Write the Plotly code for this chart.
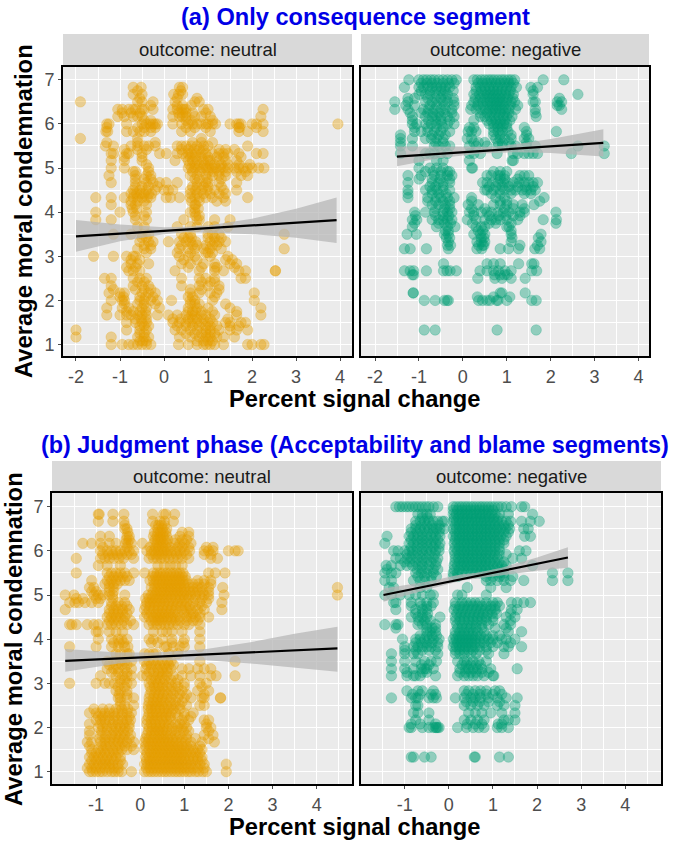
import plotly.graph_objects as go

a_neutral = [
 (6.83,[-.7,-.52,.35,.42]),
 (6.67,[-.7,-.5,.33,.42,.22]),
 (6.5,[-1.9,-.6,-.5,-.25,.25,.7,.8]),
 (6.33,[-1.05,-.95,-.8,-.7,-.65,-.5,-.45,-.25,.2,.3,.4,.45,.5,.9,1.0,2.25]),
 (6.17,[-1.05,-.9,-.7,-.6,-.5,.2,.35,.42,.5,.7,.85,1.05,2.2]),
 (6,[-1.3,-1.25,-.85,-.5,-.4,-.32,-.25,-.2,-.15,.2,.4,.55,.65,.75,.85,.95,1.0,1.1,1.17,1.5,1.65,1.7,1.75,2.0,2.1,2.25,3.95]),
 (5.83,[-1.32,-1.28,-.85,-.7,-.55,-.45,-.3,.4,.6,1.05,1.7,1.9,2.25]),
 (5.67,[-1.9,-.6,.85]),
 (5.5,[-1.33,-1.15,-.75,-.6,-.45,-.35,-.2,.3,.4,.5,.62,.75,.9,1.0,1.9]),
 (5.33,[-1.2,-1.15,-.85,-.8,-.5,-.1,.05,.3,.42,.55,.62,.72,.85,.95,1.1,1.25,1.35,1.45,1.7,2.1,2.25]),
 (5.17,[-1.2,-.9,-.5,.25,.55,.65,.75,.9,1.0,1.05,1.25,1.4,1.65]),
 (5,[-1.2,-.9,-.35,.55,.62,.7,.78,.88,.95,1.02,1.1,1.18,1.28,1.35,1.45,1.6,1.7,1.8,1.9,2.0,2.15,2.27]),
 (4.83,[-1.25,-.65,-.4,-.3,.6,.75,.95,1.1,1.25,1.4,1.75,1.9]),
 (4.67,[-1.2,-.65,-.4,-.25,-.1,.05,.3,.75,.95,1.0,1.25,1.65]),
 (4.5,[-.7,-.55,-.4,-.2,0,.1,.2,.6,.72,.85,.98,1.15,1.35,1.65]),
 (4.33,[-1.55,-1.2,-.9,-.7,-.6,-.5,-.38,-.3,.05,.15,.35,.6,.7,.8,.95,1.1,1.35,1.9]),
 (4.17,[-1.2,-.75,-.65,-.4,.7,.72]),
 (4,[-1.55,-1,-.7,-.4,.6,.7]),
 (3.83,[-1.55,-1.2,-.65,-.4,.45,.75,.8,1.15,1.5]),
 (3.67,[-.6,-.45,.3,.6,.75,1.0,1.15,1.45]),
 (3.5,[-1.15,-.75,-.5,-.35,.4,.6,1.0,1.1,1.25,2.73]),
 (3.33,[-.55,-.35,-.25,.1,.35,.5,.6,.72,1.05,1.15,1.25,1.4]),
 (3.17,[-.6,-.45,-.3,.35,.55,.7,.9,1.05,1.3,2.73]),
 (3,[-1.6,-1.15,-.85,-.7,-.65,.35,.55,.7,1.05,1.45]),
 (2.83,[-.75,-.6,-.35,.4,.6,.9,1.15,1.5,1.65]),
 (2.67,[-.8,-.7,-.55,.25,.8,1.15,1.35,1.7,1.85,2.53,2.53]),
 (2.5,[-1.35,-1.2,-.7,-.55,-.4,.4,.8,.95,1.15,1.75,1.85]),
 (2.33,[-1.2,-.7,-.5,-.35,.4,.8,1.0,1.25]),
 (2.17,[-1.25,-1.0,-.9,-.5,-.35,-.2,.6,.8,1.05,1.2,2.05]),
 (2,[-1.2,-.95,-.9,-.55,-.45,-.3,-.15,.17,.6,.7,1.1,2.05]),
 (1.83,[-1.3,-.95,-.8,-.5,-.4,-.1,.55,.75,1.0,1.5,2.2]),
 (1.67,[-1.3,-1,-.85,-.75,-.6,-.5,-.4,-.15,.1,.3,.5,.62,.7,.85,.95,1.15,1.65,2.2]),
 (1.5,[-.85,-.65,-.5,-.4,.2,.35,.5,.6,.75,.85,1.0,1.1,1.4,1.5,1.75,1.85]),
 (1.33,[-2,-.85,-.55,-.4,.25,.4,.6,.75,.95,1.05,1.25,1.5,1.65,1.9]),
 (1.17,[-2,-1.2,-.6,-.45,-.35,.35,.6,.8,.95,1.05,1.2,1.35,1.6]),
 (1,[-1.2,-.95,-.8,-.7,-.6,-.5,-.4,-.3,.33,.55,.75,.9,.97,1.05,1.15,1.35,1.9,2.0,2.2,2.27]),
 (6.75,[-.6,.38]),
 (6.58,[-.55,.3,.75]),
 (6.42,[-.3,.3,.42,.62]),
 (6.25,[-.95,-.75,-.55,.33,.42,.5,.65,.95]),
 (6.08,[-.45,-.3,.5,.62,1.1]),
 (5.92,[-1.3,-.6,-.45,-.3,-.2,.5,.7,.95,1.7,1.72,2.1]),
 (5.58,[-1.3,-.6,-.2,.65,.85,1.1]),
 (5.42,[-.9,-.6,-.4,.4,.55,.68,.8,.9,1.25,1.4,1.6]),
 (5.25,[-.9,-.5,.5,.6,.72,.85,1.0,1.2,1.35,1.75]),
 (5.08,[-.4,.58,.7,.8,.92,1.05,1.15,1.3,1.45,1.7,1.95]),
 (4.92,[-.7,-.65,-.35,.65,.82,1.0,1.12,1.25,1.4,1.65,1.85]),
 (4.75,[-.65,-.45,-.3,.7,.8,.98,1.3]),
 (4.58,[-.65,-.5,-.35,-.15,.65,.75,.9,1.0,1.3]),
 (4.42,[-.75,-.68,-.62,-.52,-.45,-.35,-.28,.6,.75,.9,1.05,1.25,1.4]),
 (4.25,[-.75,-.6,-.45,.62,.8,1.2,1.4]),
 (4.08,[-.72,-.62,.7,.78]),
 (3.92,[-.65,-.45,.72,.8]),
 (3.42,[-.5,-.4,.45,.55,.62,1.0,1.15,1.3]),
 (3.25,[-.45,-.3,.4,.65,.75,.95,1.1,1.2]),
 (3.08,[-.4,.3,.6,.95,1.0,1.1]),
 (2.92,[-.75,-.55,.45,.75,1.4,1.55]),
 (2.75,[-.85,-.65,.55,.85,1.15,1.2,1.6]),
 (2.42,[-.6,-.45,.85,1.05,1.15]),
 (2.25,[-1.15,-.65,-.45,-.3,.6,.85,1.25]),
 (2.08,[-1.0,-.92,-.55,-.42,-.25,.55,.65,1.15]),
 (1.92,[-.9,-.6,-.45,-.2,.6,.7,.8,1.4]),
 (1.75,[-.85,-.7,-.55,-.42,.55,.65,.72,.85,1.1,1.65]),
 (1.58,[-.65,-.52,-.4,.2,.38,.55,.65,.75,.9,1.05,1.45]),
 (1.42,[-.55,-.45,-.35,.3,.5,.65,.8,.95,1.05,1.2,1.5,1.7]),
 (1.25,[-.55,-.45,.5,.7,.85,.95,1.05,1.15]),
 (1.08,[-.55,-.48,-.4,.75,.9,1.0,1.1]),
]

a_negative = [
 (7,[-1.23,-1.0,-.9,-.82,-.73,-.65,-.55,-.45,-.35,-.25,-.15,.25,.33,.42,.5,.58,.65,.72,.8,.88,.95,1.03,1.1,1.18,1.83,2.3]),
 (6.83,[-1.33,-1.0,-.9,-.8,-.7,-.6,-.5,-.4,-.3,.3,.4,.5,.6,.7,.8,.9,1.0,1.1,1.22,1.55,1.7]),
 (6.67,[-1.0,-.85,-.75,-.6,-.45,-.35,.25,.38,.48,.55,.63,.72,.8,.88,.97,1.05,1.15,1.6,2.62]),
 (6.5,[-1.55,-1.25,-.85,-.7,-.6,-.45,-.35,-.2,.25,.35,.45,.55,.62,.7,.78,.85,.92,1.0,1.1,1.18,1.6,1.65,2.15,2.25]),
 (6.33,[-1.55,-1.25,-.9,-.78,-.65,-.5,-.4,-.25,.18,.3,.42,.52,.6,.68,.75,.83,.9,.98,1.05,1.2,1.65,2.25]),
 (6.17,[-1.15,-.85,-.7,-.6,-.5,-.35,-.2,.4,.5,.62,.72,.82,.92,1.0,1.12,1.67]),
 (6,[-1.15,-1.05,-.85,-.72,-.6,-.48,-.35,-.2,.6,.7,.78,.85,.93,1.0]),
 (5.83,[-1.1,-.95,-.8,-.65,-.5,-.3,.12,.2,.3,.7,.8,.9,1.03,1.45,2.13]),
 (5.67,[-1.42,-1.15,-.85,-.72,-.6,-.45,.1,.2,.75,.85,.95,1.1,1.4,1.5]),
 (5.5,[-1.42,-1.15,-.65,-.55,-.4,-.3,.15,.3,.55,.8,.9,1.1,1.2,1.45,1.65,2.62,3.22]),
 (5.33,[-1.42,-.85,-.75,-.65,-.5,-.35,.15,.25,.4,.78,1.15,1.25,1.4,1.5,1.6,1.7,2.47,3.22]),
 (5.17,[-1.0,-.6,-.45,.15,1.15,1.12]),
 (5,[-1.0,-.75,-.6,-.45,.2,.22]),
 (4.83,[-1.25,-.95,-.65,-.5,-.35,-.25,.55,.65,.8,.85,.95,1.3,1.4,1.5]),
 (4.67,[-1.25,-.7,-.55,-.45,-.3,.45,.55,.68,.8,.92,1.02,1.15,1.28,1.4,1.5,1.6,1.7]),
 (4.5,[-1.25,-.85,-.7,-.6,-.45,-.3,.5,.55,.7,.85,.95,1.1,1.2,1.35,1.45,1.55,1.65]),
 (4.33,[-1.25,-.8,-.6,-.5,-.35,-.2,.2,.75,.95,1.85]),
 (4.17,[-.7,-.55,-.4,-.3,.12,.35,.7,.85,1.0,1.15,1.35,1.62]),
 (4,[-1.1,-.85,-.65,-.45,-.35,-.25,.15,.25,.42,.55,.65,.8,.92,1.05,1.3,1.4,2.12]),
 (3.83,[-1.15,-1.05,-.7,-.55,-.45,-.35,-.25,.1,.3,.5,.65,.75,.85,1.0,1.25,1.83,2.13]),
 (3.67,[-1.15,-.6,-.35,-.18,.3,.42,.5,1.0,1.05]),
 (3.5,[-1.27,-1.06,-.42,-.33,.25,.4,.5,1.1,1.78]),
 (3.33,[-.33,.32,.42,.5,1.1,1.78]),
 (3.17,[-1.33,-1.2,-.83,-.33,.32,.43,.85,1.04,1.27,1.64,1.75]),
 (2.83,[-.44,.55,.7,.85,1.27,1.57,1.62]),
 (2.67,[-1.33,-1.2,-1.12,-.83,-.44,-.36,-.29,-.15,.39,.55,.7,.81,.96,1.1,1.57,1.68]),
 (2.58,[-1.15,-1.12,.72,.85,.95,1.02]),
 (2.5,[.34,.73,.89,1.1,1.42]),
 (2.17,[-1.13,-1.13,.85,.89,1.42]),
 (2.08,[.33,.7,1.07]),
 (2,[-.88,-.63,-.42,-.36,-.33,.36,.45,.55,.62,.77,.8,1.0,1.57,1.67]),
 (1.33,[-.88,-.63,.78,1.67]),
 (6.92,[-.95,-.82,-.7,-.58,-.45,-.32,-.2,.35,.45,.55,.65,.75,.85,.95,1.05,1.15]),
 (6.75,[-.95,-.75,-.62,-.5,-.4,-.22,.3,.42,.52,.62,.7,.78,.88,.98,1.08,1.6]),
 (6.58,[-1.25,-1.1,-.8,-.62,-.5,-.38,-.22,.28,.4,.5,.6,.68,.76,.84,.92,1.02,1.14,2.2]),
 (6.42,[-1.3,-1.1,-.75,-.6,-.42,-.2,.2,.34,.46,.58,.68,.76,.84,.94,1.08,1.25,2.15,2.2]),
 (6.25,[-1.2,-.95,-.8,-.68,-.55,-.42,-.25,.4,.55,.65,.75,.85,.95,1.05,1.65]),
 (6.08,[-1.15,-.78,-.62,-.5,-.3,.25,.55,.65,.75,.85,.95,1.07]),
 (5.92,[-1.1,-.8,-.6,-.45,.15,.25,.7,.8,.9,1.0,1.4]),
 (5.75,[-1.42,-.7,-.55,-.4,.7,.85,1.1,1.45]),
 (5.58,[-1.42,-.62,-.45,.25,.35,.5,.8,.9,1.05,1.45]),
 (4.92,[-.85,-.68,-.5,-.35,-.3,.7,.85,1.0]),
 (4.75,[-1.0,-.7,-.52,-.3,.85,.95,1.25]),
 (4.58,[-.75,-.62,-.45,.6,.75,.9,1.05,1.25,1.42,1.6]),
 (4.42,[-1.25,-.7,-.55,-.38,.65,.85,1.1,1.4,1.55]),
 (4.25,[-.8,-.62,-.45,-.3,.2,.85,1.0,1.75]),
 (4.08,[-.62,-.42,-.3,.2,.5,.95,1.15,1.4]),
 (3.92,[-1.08,-.62,-.45,-.32,.25,.6,.82,.98,1.15,1.3]),
 (3.75,[-1.1,-.55,-.42,-.28,.22,.6,.75,1.1,2.12]),
 (3.58,[-.4,-.33,.35,.45,1.1]),
 (3.42,[-.38,-.3,.42,.48,1.12,1.72]),
 (3.25,[-.35,-.28,.36,.45,.48,1.3,1.7]),
]

b_neutral = [
 (6.83,[-.95,-.93,-.62,-.37,.28,.53,.58,.78]),
 (6.67,[-.95,-.62,-.37,.28,.45,.55,.75]),
 (6.5,[-.35,-.3,.4,.5,.6]),
 (6.33,[-.9,-.7,-.3,-.25,.3,.38,.45,.52,.6,.9,1.1]),
 (6.17,[-1.3,-1.1,-.9,-.7,-.55,-.33,-.28,-.2,.05,.3,.38,.45,.52,.6,.78,.9,1.0,1.15]),
 (6,[-.9,-.75,-.65,-.55,-.45,-.35,-.25,-.15,.15,.25,.32,.4,.47,.55,.62,.7,.8,.9,1.0,1.12,1.45,1.55,1.65,2.0,2.15,2.22]),
 (5.83,[-1.45,-.9,-.8,-.7,-.6,-.48,-.38,-.15,.2,.3,.38,.47,.55,.65,.75,.85,.95,1.1,1.6,1.75]),
 (5.67,[-.95,-.75,-.45,.4,.55,.68,.8,.95]),
 (5.5,[-1.45,-.75,-.65,-.55,-.45,-.35,-.15,.1,.3,.38,.45,.52,.6,.68,.75,.83,.9,.97,1.55,1.7,1.92]),
 (5.33,[-1.1,-.75,-.65,-.55,-.45,-.35,-.25,.22,.3,.37,.45,.52,.6,.67,.75,.82,.9,.97,1.05,1.3,1.45,1.6]),
 (5.17,[-1.15,-1.05,-.7,-.6,.25,.33,.4,.48,.55,.63,.7,.78,.85,.92,1.0,1.1,1.2,1.3,1.4,1.55,1.87,4.47]),
 (5,[-1.7,-1.5,-1.05,-.95,-.85,-.7,-.62,-.35,.18,.26,.34,.42,.5,.58,.66,.74,.82,.9,.98,1.06,1.14,1.25,1.35,1.45,1.55,1.9,4.47]),
 (4.83,[-1.6,-1.48,-1.4,-1.25,-1.1,-.95,-.65,-.5,-.35,.15,.22,.3,.38,.46,.55,.65,.75,.85,.95,1.05,1.2,1.35,1.5,1.85]),
 (4.67,[-1.7,-.7,-.6,-.5,-.4,-.25,.1,.2,.3,.4,.5,.6,.7,.8,.95,1.05,1.15,1.3,1.45,1.85]),
 (4.5,[-.75,-.65,-.55,-.45,-.35,.1,.2,.3,.38,.46,.54,.62,.7,.8,.9,1.05,1.15,1.25,1.35,1.55]),
 (4.33,[-1.6,-1.55,-1.45,-1.2,-1.05,-.95,-.75,-.65,-.55,-.42,-.3,-.15,.2,.3,.38,.46,.55,.65,.75,.85,1.0,1.1,1.35]),
 (4.17,[-1.0,-.95,-.7,-.55,-.4,.3,.5,.6,.72,.95,1.35]),
 (4,[-.95,-.65,-.5,-.42,-.3,.2,.3,.5,.72,1.0,1.35]),
 (3.83,[-1.6,-1.0,-.65,-.5,-.35,-.28,.55,.6,.75,.9,1.0,1.35]),
 (3.67,[-.55,-.45,-.3,-.25,.1,.2,.3,.35,.65,.85]),
 (3.5,[-.75,-.6,-.45,-.35,-.2,.1,.2,.3,.4,.5,.62,.7,1.35,2.15]),
 (3.33,[-.75,-.6,-.5,-.35,-.2,.12,.25,.4,.5,.6,.7,.95,1.1,1.3,1.45,1.6]),
 (3.17,[-.9,-.55,-.4,-.3,-.2,.05,.15,.3,.4,.5,.6,.75,.95,1.15,1.35,1.6,1.72,2.15]),
 (3,[-1.6,-1.0,-.8,-.7,-.58,-.45,-.3,-.2,.2,.3,.4,.52,.65,.8,1.0,1.35,1.5]),
 (2.83,[-.55,-.45,-.3,.25,.35,.45,.55,.7,.8,.95,1.3,1.55]),
 (2.67,[-.5,-.45,-.3,-.15,.2,.3,.4,.5,.6,.7,.85,1.0,1.15,1.4,1.45,1.82,1.82]),
 (2.5,[-.45,-.35,-.15,.18,.26,.34,.42,.5,.6,.7,.8,.9,1.05,1.35,1.45]),
 (2.33,[-1.15,-1.0,-.9,-.8,-.7,-.6,-.5,-.4,-.3,-.2,.2,.28,.36,.44,.52,.6,.7,.8,1.0,1.2]),
 (2.17,[-1.0,-.9,-.8,-.7,-.6,-.5,-.4,-.3,-.22,.15,.25,.33,.4,.5,.6,.7,.95,1.1,1.45,1.55]),
 (2,[-.95,-.85,-.75,-.65,-.55,-.45,-.35,-.25,.2,.28,.36,.44,.52,.6,.72,.85,.95,1.05,1.5,1.6]),
 (1.83,[-1.15,-.9,-.78,-.65,-.55,-.45,-.35,-.22,.15,.25,.33,.42,.5,.58,.68,.8,.9,1.05,1.45,1.65]),
 (1.67,[-1.2,-1.1,-.9,-.8,-.7,-.6,-.5,-.4,-.3,-.15,.1,.18,.26,.34,.42,.5,.58,.66,.74,.82,.92,1.02,1.15,1.4,1.68]),
 (1.5,[-1.1,-.95,-.85,-.75,-.62,-.52,-.42,-.3,-.15,.1,.2,.28,.36,.44,.52,.6,.68,.76,.84,.92,1.0,1.1,1.2,1.3,1.4]),
 (1.33,[-1.15,-1.05,-.95,-.85,-.75,-.65,-.55,-.45,.12,.2,.28,.36,.44,.52,.6,.68,.76,.84,.92,1.0,1.1,1.2,1.3,1.4]),
 (1.17,[-1.15,-1.05,-.95,-.85,-.78,-.7,-.62,-.5,-.4,.1,.17,.24,.32,.4,.48,.56,.64,.72,.8,.88,.96,1.05,1.15,1.25,1.35,1.45,1.95]),
 (1,[-1.15,-1.08,-1.0,-.92,-.85,-.75,-.65,-.58,-.5,-.42,-.2,.1,.18,.25,.32,.4,.48,.55,.62,.7,.78,.85,.92,1.0,1.08,1.15,1.25,1.32,1.42,1.5,1.95]),
 (6.58,[.35,.42,.48,.55,-.35]),
 (6.42,[-.28,.32,.4,.46,.52,.58,.95,1.1]),
 (6.25,[-.32,-.25,.33,.4,.47,.55,.62,.8,.95,1.05]),
 (6.08,[-.85,-.3,.22,.35,.42,.5,.58,.68,.85,.95,1.1,1.5,1.65]),
 (5.92,[-.85,-.72,-.62,-.52,-.42,-.3,-.2,.25,.35,.42,.5,.6,.7,.82,.92,1.05,1.45,1.6]),
 (5.42,[-.7,-.6,-.5,-.4,-.3,.28,.35,.42,.5,.57,.65,.72,.8,.88,.95,1.02]),
 (5.25,[-.8,-.7,-.6,-.52,.32,.42,.5,.58,.66,.74,.82,.9,.98,1.08,1.2,1.32,1.45,1.6]),
 (5.08,[-1.1,-1.0,-.7,-.6,.3,.38,.46,.54,.62,.7,.78,.86,.94,1.02,1.12,1.2,1.3,1.42,1.55]),
 (4.92,[-1.45,-1.3,-1.0,-.9,-.62,.12,.2,.28,.36,.44,.52,.6,.7,.8,.9,1.0,1.1,1.25,1.4,1.55]),
 (4.75,[-.65,-.55,-.42,-.3,.12,.22,.32,.42,.52,.62,.72,.82,.92,1.02,1.12,1.25,1.4]),
 (4.58,[-.7,-.6,-.5,-.4,-.3,.15,.25,.35,.42,.5,.58,.66,.75,.85,1.0,1.1,1.2,1.35]),
 (4.42,[-.7,-.6,-.5,-.38,-.22,.25,.34,.42,.5,.6,.7,.8,.9,1.05,1.2,1.3]),
 (3.92,[-.6,-.48,-.38,.25,.4,.72,.98]),
 (3.42,[-.7,-.55,-.42,-.3,.15,.25,.35,.45,.55,.65,.75]),
 (3.25,[-.65,-.5,-.3,.2,.3,.42,.52,.62]),
 (3.08,[-.45,-.35,.25,.35,.45,.55,.7,.85]),
 (2.92,[-.5,-.35,.22,.32,.42,.5,.6,.72,.85,1.0,1.4]),
 (2.75,[-.48,-.3,.22,.32,.42,.52,.62,.75,.9,1.05,1.45]),
 (2.58,[-.45,.2,.3,.38,.46,.55,.68,.8,.95]),
 (2.42,[-1.05,-.85,-.7,-.55,-.42,-.28,.18,.25,.35,.45,.55,.65,.75,.9]),
 (2.25,[-.95,-.85,-.72,-.58,-.42,-.25,.18,.28,.38,.48,.58,.68,.85,1.0,1.15]),
 (2.08,[-1.15,-.9,-.78,-.62,-.5,-.38,-.25,.15,.25,.35,.45,.55,.65,.8,.9,1.0,1.5]),
 (1.92,[-1.15,-.88,-.75,-.6,-.5,-.38,-.28,.18,.26,.34,.42,.5,.6,.72,.82,.98,1.1,1.55]),
 (1.75,[-.92,-.8,-.68,-.58,-.48,-.38,-.25,.12,.2,.3,.38,.46,.54,.62,.72,.82,.95,1.05,1.25,1.55]),
 (1.58,[-1.15,-.88,-.78,-.68,-.55,-.45,-.35,-.2,.12,.22,.3,.38,.46,.54,.62,.7,.78,.86,.95,1.05,1.15,1.35]),
 (1.42,[-1.1,-1.0,-.9,-.8,-.7,-.6,-.5,.15,.24,.32,.4,.48,.56,.64,.72,.8,.88,.96,1.05,1.15,1.25,1.35]),
 (1.25,[-1.1,-1.0,-.9,-.8,-.7,-.6,-.45,.14,.22,.3,.38,.46,.54,.62,.7,.78,.86,.94,1.02,1.1,1.2,1.3,1.4]),
 (1.08,[-1.2,-1.1,-1.0,-.9,-.8,-.7,-.6,-.5,.14,.22,.3,.38,.46,.54,.62,.7,.78,.86,.94,1.02,1.1,1.2,1.3,1.45]),
]

b_negative = [
 (7,[-1.2,-1.12,-1.05,-.97,-.9,-.82,-.75,-.68,-.6,-.52,-.45,-.35,-.25,.1,.17,.24,.3,.37,.43,.5,.56,.63,.7,.76,.83,.9,.97,1.04,1.12,1.2,1.3,1.42,1.65,1.72]),
 (6.83,[-.7,-.6,-.5,-.42,.1,.17,.24,.3,.37,.43,.5,.56,.63,.7,.76,.83,.9,.97,1.05,1.15,1.35,1.9]),
 (6.67,[-.75,-.65,-.55,-.45,-.35,-.25,-.15,-.1,.1,.17,.24,.31,.38,.45,.52,.59,.66,.73,.8,.87,.95,1.03,1.1,1.2,1.3,1.4,1.65,1.85,2.05]),
 (6.5,[-.85,-.75,-.65,-.55,-.45,-.35,-.28,-.2,-.1,.1,.17,.24,.31,.38,.45,.52,.59,.66,.73,.8,.87,.94,1.02,1.1,1.18,1.28,1.38,1.7,1.8]),
 (6.33,[-1.4,-.9,-.8,-.7,-.6,-.5,-.4,-.3,-.2,.1,.17,.24,.31,.38,.45,.52,.59,.66,.73,.8,.87,.94,1.02,1.1,1.18,1.3,1.72,1.85]),
 (6.17,[-1.45,-.9,-.8,-.7,-.6,-.5,-.4,-.3,-.2,.12,.2,.28,.35,.42,.5,.57,.65,.72,.8,.88,.96,1.05,1.15,1.25]),
 (6,[-1.25,-1.15,-1.0,-.9,-.82,-.72,-.6,-.5,-.4,-.3,-.22,.12,.2,.28,.35,.42,.5,.57,.65,.72,.8,.88,.96,1.05,1.15,1.6,1.75]),
 (5.83,[-1.2,-1.1,-.95,-.85,-.72,-.6,-.5,-.35,-.25,.15,.22,.3,.38,.45,.52,.6,.68,.75,.83,.9,1.0,1.1,1.45,1.65]),
 (5.67,[-1.42,-1.3,-1.1,-.95,-.82,-.7,-.6,-.45,-.3,.12,.2,.28,.35,.42,.5,.58,.66,.74,.82,.9,1.0,1.1,1.2,1.3,1.9]),
 (5.5,[-1.45,-1.3,-1.2,-.75,-.62,-.5,-.35,.1,.2,.3,.4,.5,.6,.7,.8,.9,1.0,1.15,1.25,2.35,2.7]),
 (5.33,[-1.45,-1.3,-.8,-.65,-.55,-.4,.85,.95,1.1,1.25,1.4,1.7,2.35,2.7]),
 (5.17,[-1.35,-1.25,-.65,-.5,.42,.95,1.3]),
 (5,[-1.45,-1.3,-1.1,-.9,-.75,-.6,-.42,-.35,.2,.3,.85]),
 (4.83,[-1.25,-1.2,-.85,-.65,-.5,-.35,.15,.3,.4,.5,.6,.7,.85,1.0,1.1,1.42,1.55,1.7,1.85]),
 (4.67,[-1.2,-.75,-.6,-.5,.12,.22,.32,.42,.52,.62,.72,.82,.95,1.05,1.42,1.55]),
 (4.5,[-.85,-.7,-.6,-.5,-.2,.15,.25,.35,.45,.55,.65,.75,.85,1.0,1.3,1.5]),
 (4.33,[-1.45,-1.2,-1.15,-.7,-.6,-.5,-.3,.18,.3,.42,.52,.62,.75,.9,1.25,1.4]),
 (4.17,[-.5,-.42,-.3,.15,.25,.35,.45,.55,.65,.8,1.35,1.65]),
 (4,[-1.05,-.75,-.65,-.55,-.45,-.35,-.22,.1,.17,.24,.31,.38,.45,.52,.6,.7,.8,.9,1.0,1.2,1.3,1.5]),
 (3.83,[-1.0,-.8,-.7,-.6,-.5,-.4,-.25,.1,.17,.24,.31,.38,.45,.52,.6,.7,.85,1.0,1.25,1.35,1.65]),
 (3.67,[-1.3,-1.0,-.8,-.7,-.25,.15,.25,.35,.5,.62,.9,1.25]),
 (3.5,[-1.3,-1.0,-.75,-.55,-.4,-.28,.2,.35,.42,.55,.68,.85]),
 (3.33,[-1.3,-1.0,-.8,-.62,-.55,-.5,-.35,.25,.38,.45,.55,.65,.75,.95,1.55]),
 (3.17,[-1.3,-.95,-.8,-.75,-.65,-.3,.2,.35,.45,.55,.65,.8,1.0,1.02]),
 (2.83,[-.95,-.7,-.6,-.35,.35,.45,.6,.72,.85,1.05,1.15]),
 (2.67,[-1.3,-.85,-.75,-.7,-.45,-.35,-.28,.15,.35,.5,.6,.72,.9,1.1,1.3,1.55]),
 (2.5,[-.75,-.7,.35,.5,.65,.8,1.1,1.25,1.5]),
 (2.33,[-.8,-.7,-.45,.45,.6,.75,.95,1.2,1.5]),
 (2,[-.9,-.85,-.6,-.45,-.3,-.22,.2,.4,.55,.68,.8,1.1,1.2,1.35,-.35,-.25,-.28]),
 (1.33,[-.85,-.8,-.55,-.4,.58,.6,1.15,1.35]),
 (6.92,[.1,.2,.3,.4,.5,.6,.7,.8,.9,1.0]),
 (6.75,[.12,.22,.32,.42,.52,.62,.72,.82,.92,1.02,1.12,-.6,-.48]),
 (6.58,[-.75,-.62,-.5,-.38,-.22,.14,.24,.34,.44,.54,.64,.74,.84,.94,1.04,1.14,1.25,1.35]),
 (6.42,[-.85,-.72,-.6,-.48,-.35,-.22,.14,.24,.34,.44,.54,.64,.74,.84,.94,1.04,1.14,1.25,1.35]),
 (6.25,[-.85,-.72,-.6,-.48,-.35,-.25,.14,.24,.34,.44,.54,.64,.74,.84,.94,1.04,1.14,1.25]),
 (6.08,[-.85,-.72,-.6,-.48,-.35,-.22,.14,.24,.34,.44,.54,.64,.74,.84,.94,1.04,1.14]),
 (5.92,[-.95,-.82,-.7,-.58,-.45,-.32,.14,.24,.34,.44,.54,.64,.74,.84,.94,1.04,1.14,1.3]),
 (5.75,[-1.0,-.88,-.75,-.62,-.5,-.4,-.28,.14,.24,.34,.44,.54,.64,.74,.84,.94,1.04,1.14,1.25]),
 (5.58,[-1.4,-.72,-.6,-.48,-.35,-.25,.12,.24,.34,.44,.54,.64,.74,.84,.94,1.04,1.14,1.25]),
 (5.42,[-.7,-.55,-.4,-.28,.1,.2,.85,1.0,1.15,1.25,1.45]),
 (4.75,[-.85,-.62,-.5,-.4,.15,.25,.35,.45,.55,.65,.75,.85,.95,1.05,1.15]),
 (4.58,[-.75,-.6,-.48,.18,.28,.38,.48,.58,.68,.78,.88,.98,1.08,1.4]),
 (4.42,[-.68,-.55,-.42,.15,.25,.35,.45,.55,.65,.75,.85,1.0,1.4]),
 (4.25,[-1.2,-.5,-.38,-.3,.2,.3,.4,.5,.62,.75,1.05,1.3]),
 (4.08,[-.65,-.5,-.38,-.28,.14,.22,.3,.38,.46,.54,.62,.72,.85,1.0,1.15]),
 (3.92,[-.75,-.62,-.5,-.38,-.25,.12,.2,.28,.36,.44,.52,.6,.7,.8,.95,1.1,1.4]),
 (3.75,[-1.0,-.75,-.6,-.45,-.3,.15,.25,.35,.45,.55,.7,.85]),
 (3.42,[-.62,-.45,.3,.4,.5,.62,.72]),
 (3.25,[-.95,-.6,-.5,.25,.38,.5,.62,.75,.9]),
 (2.75,[-.82,-.65,-.4,-.3,.4,.55,.7,.85,1.0,1.2]),
 (2.58,[.4,.55,.7,.9,1.15]),
 (2.17,[-.75,-.45,.35,.5,.65,.8,1.25,1.35,1.5]),
 (2.08,[-.85,-.65,-.3,.42,.6,.75,1.12,1.2]),
]

curves = {
 "a_neutral": dict(x=[-2,-1,0,.5,1,2,3,3.92], lo=[3.1,3.34,3.5,3.55,3.53,3.5,3.42,3.3],
                   hi=[3.82,3.72,3.66,3.67,3.7,3.85,4.08,4.33], line_x=[-2,3.92], line_y=[3.45,3.82]),
 "a_negative": dict(x=[-1.5,-.5,.3,.7,1.2,2,3.2], lo=[5.04,5.23,5.32,5.34,5.36,5.34,5.26],
                    hi=[5.49,5.48,5.48,5.48,5.54,5.66,5.88], line_x=[-1.5,3.2], line_y=[5.26,5.57]),
 "b_neutral": dict(x=[-1.7,-.5,.3,.7,1.5,2.5,3.5,4.47], lo=[3.26,3.45,3.52,3.53,3.52,3.45,3.35,3.26],
                   hi=[3.78,3.7,3.7,3.72,3.78,3.93,4.12,4.28], line_x=[-1.7,4.47], line_y=[3.51,3.79]),
 "b_negative": dict(x=[-1.48,-.5,.3,.6,1.2,2,2.7], lo=[4.85,5.12,5.33,5.37,5.44,5.55,5.62],
                    hi=[5.15,5.3,5.47,5.5,5.62,5.85,6.08], line_x=[-1.48,2.7], line_y=[5.0,5.85]),
}

W, H = 675, 842
ORANGE = "230,159,0"
GREEN = "0,158,115"
STRIP = "#D9D9D9"
TICK_COLOR = "#4D4D4D"

panels = [
 ("a_neutral", a_neutral, ORANGE, (63,352), (67,356), (-2.295,4.27), (0.74,7.29), list(range(-2,5)), (34,65), "outcome: neutral"),
 ("a_negative", a_negative, GREEN, (361,649), (67,356), (-2.32,4.24), (0.74,7.29), list(range(-2,5)), (34,65), "outcome: negative"),
 ("b_neutral", b_neutral, ORANGE, (52,352), (493,784), (-2.0,4.8), (0.72,7.31), list(range(-1,5)), (461,491), "outcome: neutral"),
 ("b_negative", b_negative, GREEN, (361,661), (493,784), (-1.99,4.81), (0.72,7.31), list(range(-1,5)), (461,491), "outcome: negative"),
]

fig = go.Figure()
layout = {}
shapes = []
annotations = []
for i, (name, rows, rgb, px, py, xr, yr, xticks, strip, label) in enumerate(panels, start=1):
    xs, ys = [], []
    for lev, row in rows:
        for v in row:
            xs.append(v)
            ys.append(lev)
    ax = f"x{i}"; ay = f"y{i}"
    fig.add_trace(go.Scatter(x=xs, y=ys, mode="markers", xaxis=ax, yaxis=ay, showlegend=False,
        marker=dict(size=10.5, color=f"rgba({rgb},0.38)", line=dict(width=0.8, color=f"rgba({rgb},0.3)"))))
    c = curves[name]
    fig.add_trace(go.Scatter(x=c["x"]+c["x"][::-1], y=c["hi"]+c["lo"][::-1], mode="lines", fill="toself",
        fillcolor="rgba(180,180,180,0.72)", line=dict(width=0), xaxis=ax, yaxis=ay, showlegend=False))
    fig.add_trace(go.Scatter(x=c["line_x"], y=c["line_y"], mode="lines", line=dict(color="black", width=2.2),
        xaxis=ax, yaxis=ay, showlegend=False))
    sfx = "" if i == 1 else str(i)
    common = dict(showgrid=True, gridcolor="white", gridwidth=1.4, zeroline=False, showline=True, mirror=True,
                  linecolor="black", linewidth=2, ticks="outside", ticklen=3, tickcolor=TICK_COLOR, tickwidth=1,
                  tickfont=dict(family="Liberation Sans", size=18, color=TICK_COLOR),
                  minor=dict(dtick=0.5, showgrid=True, gridcolor="white", gridwidth=0.7, ticks=""))
    layout[f"xaxis{sfx}"] = dict(domain=[px[0]/W, px[1]/W], range=list(xr), tickvals=xticks,
                                 ticktext=[str(t) for t in xticks], anchor=ay, **common)
    left = i in (1, 3)
    layout[f"yaxis{sfx}"] = dict(domain=[1-py[1]/H, 1-py[0]/H], range=list(yr), tickvals=list(range(1,8)), anchor=ax,
                                 showticklabels=left, **{**common, "ticks": "outside" if left else ""})
    shapes.append(dict(type="rect", xref="paper", yref="paper", x0=px[0]/W, x1=px[1]/W,
                       y0=1-strip[1]/H, y1=1-strip[0]/H, fillcolor=STRIP, line=dict(width=0)))
    annotations.append(dict(text=label, xref="paper", yref="paper", x=(px[0]+px[1])/2/W, y=1-(strip[0]+strip[1])/2/H,
                            showarrow=False, xanchor="center", yanchor="middle",
                            font=dict(family="Liberation Sans", size=18.5, color="#1A1A1A")))

def text(s, x, y, size, color="black", angle=0):
    annotations.append(dict(text=f"<b>{s}</b>", xref="paper", yref="paper", x=x/W, y=1-y/H, showarrow=False,
                            xanchor="center", yanchor="middle", textangle=angle,
                            font=dict(family="Liberation Sans", size=size, color=color)))

text("(a) Only consequence segment", 355, 17, 23.6, "#0000E6")
text("(b) Judgment phase (Acceptability and blame segments)", 355, 445, 23.4, "#0000E6")
text("Percent signal change", 354, 399, 23.7)
text("Percent signal change", 354, 827, 23.7)
text("Average moral condemnation", 23, 211, 23.8, angle=-90)
text("Average moral condemnation", 13, 639, 23.8, angle=-90)

fig.update_layout(width=W, height=H, margin=dict(l=0, r=0, t=0, b=0), paper_bgcolor="white",
                  plot_bgcolor="#EBEBEB", shapes=shapes, annotations=annotations, showlegend=False, **layout)
fig.write_html("out.html", post_script="document.body.style.margin='0';", config={"displayModeBar": False})
